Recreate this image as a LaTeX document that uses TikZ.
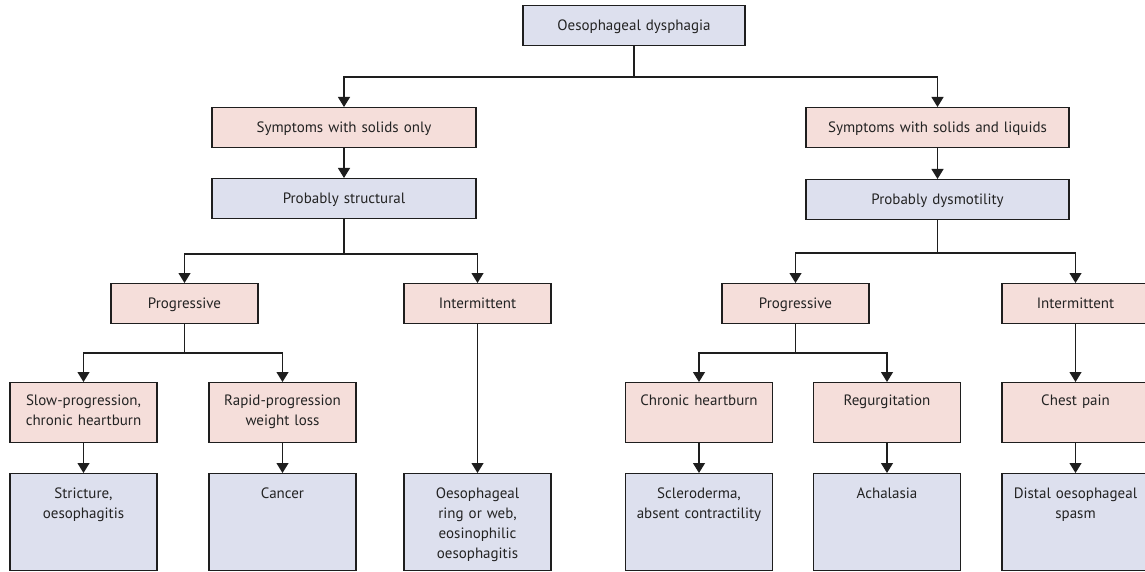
\documentclass[tikz,border=0pt]{standalone}
\usepackage{fontspec}
\setmainfont{PT Sans}
\usetikzlibrary{arrows.meta}
\definecolor{pinkfill}{RGB}{245,222,218}
\definecolor{bluefill}{RGB}{221,224,238}
\definecolor{boxline}{RGB}{30,30,30}
\definecolor{txtcol}{RGB}{35,35,35}
\tikzset{
  box/.style={draw=boxline, line width=1.1pt, text=txtcol, text width=147pt,
    align=center, inner xsep=0pt, inner ysep=0pt, text height=25pt,
    text depth=15pt, anchor=north, font=\fontsize{15}{20}\selectfont},
  pinkbox/.style={box, fill=pinkfill},
  bluebox/.style={box, fill=bluefill},
  wide/.style={text width=#1},
  tall/.style={text depth=37pt, text height=23pt},
  deep/.style={text depth=72pt},
  arr/.style={-{Triangle[width=12pt,length=10pt]}, line width=1.2pt, draw=boxline}
}
\begin{document}
\begin{tikzpicture}[x=1pt,y=-1pt]
  \useasboundingbox (0,0) rectangle (1145,572);
  \draw
    (634,5) node[bluebox, wide=222pt] (od) {Oesophageal dysphagia}
    (344,107) node[pinkbox, wide=264pt] (solid) {Symptoms with solids only}
    (937.5,107) node[pinkbox, wide=263pt] (both) {Symptoms with solids and liquids}
    (344,178) node[bluebox, wide=264pt] (struct) {Probably structural}
    (937.5,179) node[bluebox, wide=263pt] (dysmot) {Probably dysmotility}
    (184.5,283) node[pinkbox] (progl) {Progressive}
    (477.5,283) node[pinkbox] (interl) {Intermittent}
    (795.5,283) node[pinkbox] (progr) {Progressive}
    (1075.5,283) node[pinkbox] (interr) {Intermittent}
    (83.5,382) node[pinkbox, tall] (slow) {Slow-progression,\\chronic heartburn}
    (282.5,382) node[pinkbox, tall] (rapid) {Rapid-progression\\weight loss}
    (699,382) node[pinkbox, tall] (chron) {Chronic heartburn}
    (887,382) node[pinkbox, tall] (regurg) {Regurgitation}
    (1075.5,382) node[pinkbox, tall] (chest) {Chest pain}
    (83.5,473) node[bluebox, deep] (strict) {Stricture,\\oesophagitis}
    (282.5,473) node[bluebox, deep] (cancer) {Cancer}
    (477.5,473) node[bluebox, deep] (ring) {Oesophageal\\ring or web,\\eosinophilic\\oesophagitis}
    (699,473) node[bluebox, deep] (sclero) {Scleroderma,\\absent contractility}
    (887,473) node[bluebox, deep] (achal) {Achalasia}
    (1075.5,473) node[bluebox, deep] (distal) {Distal oesophageal\\spasm};
  \coordinate (j0) at (634,77);
  \coordinate (j1) at (344,254);
  \coordinate (j2) at (937.5,253);
  \coordinate (j3) at (184.5,353);
  \coordinate (j4) at (795.5,353);
  \begin{scope}[arr]
    \draw (od) -- (j0) -| (solid);
    \draw (od) -- (j0) -| (both);
    \draw (solid) -- (struct);
    \draw (both) -- (dysmot);
    \draw (struct) -- (j1) -| (progl);
    \draw (struct) -- (j1) -| (interl);
    \draw (dysmot) -- (j2) -| (progr);
    \draw (dysmot) -- (j2) -| (interr);
    \draw (progl) -- (j3) -| (slow);
    \draw (progl) -- (j3) -| (rapid);
    \draw (progr) -- (j4) -| (chron);
    \draw (progr) -- (j4) -| (regurg);
    \draw (interl) -- (ring);
    \draw (interr) -- (chest);
    \draw (slow) -- (strict);
    \draw (rapid) -- (cancer);
    \draw (chron) -- (sclero);
    \draw (regurg) -- (achal);
    \draw (chest) -- (distal);
  \end{scope}
\end{tikzpicture}
\end{document}
